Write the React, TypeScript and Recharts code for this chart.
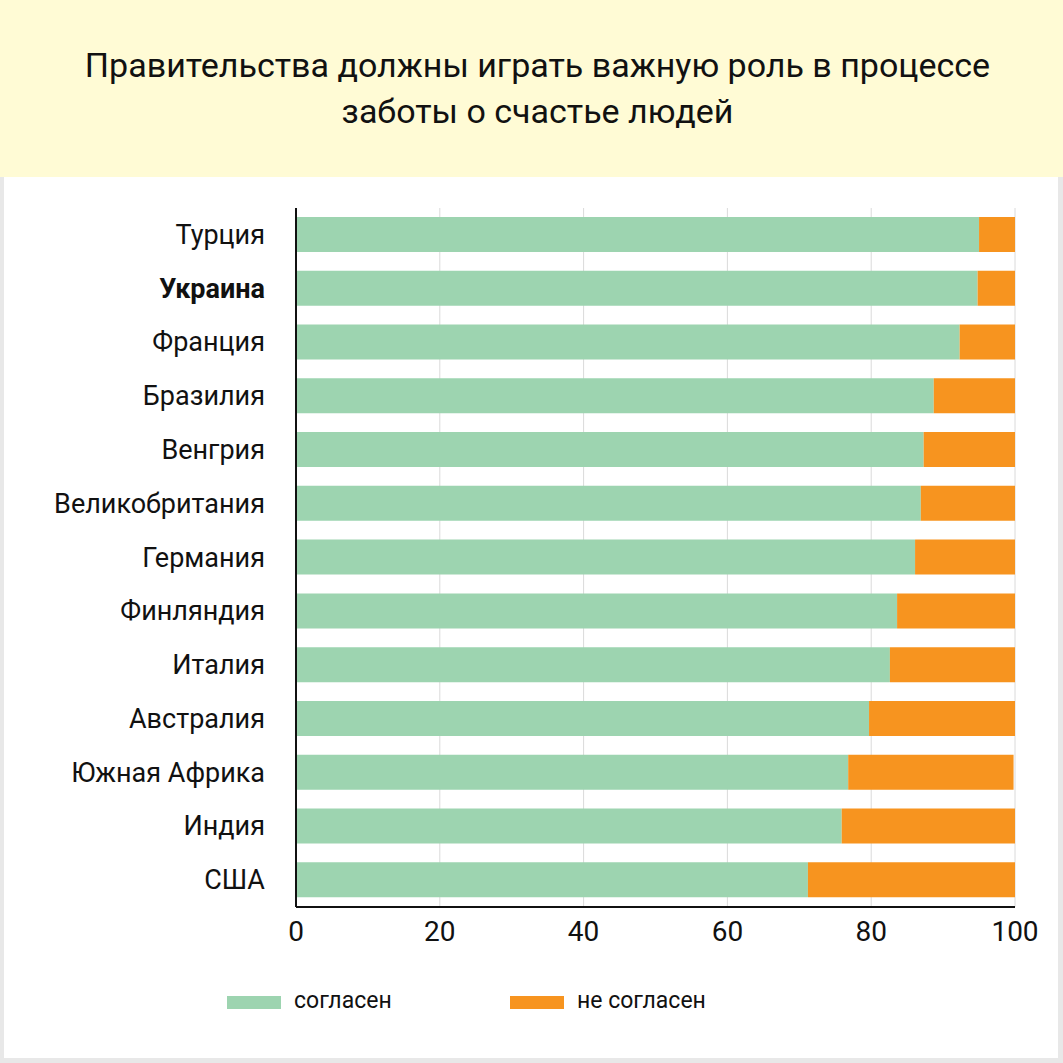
import React from 'react';
import {
  BarChart,
  Bar,
  XAxis,
  YAxis,
  CartesianGrid,
  Legend,
} from 'recharts';

const countries = [
  'Турция',
  'Украина',
  'Франция',
  'Бразилия',
  'Венгрия',
  'Великобритания',
  'Германия',
  'Финляндия',
  'Италия',
  'Австралия',
  'Южная Африка',
  'Индия',
  'США',
];
const agree = [95.0, 94.8, 92.3, 88.7, 87.3, 86.9, 86.1, 83.6, 82.6, 79.7, 76.8, 75.9, 71.2];
const disagree = [5.0, 5.2, 7.7, 11.3, 12.7, 13.1, 13.9, 16.4, 17.4, 20.3, 23.0, 24.1, 28.8];
const xTicks = [0, 20, 40, 60, 80, 100];
const highlighted = 'Украина';

const GREEN = '#9dd4b0';
const ORANGE = '#f7941f';
const FONT = 'Roboto, "Noto Sans", sans-serif';

const chartData = countries.map((country, i) => ({
  country,
  agree: agree[i],
  disagree: disagree[i],
}));

const CountryTick = (props: any) => {
  const { x, y, payload } = props;
  const bold = payload.value === highlighted;
  return (
    <text
      x={x}
      y={y}
      dy={9}
      textAnchor="end"
      fontSize={27}
      fontFamily={FONT}
      fontWeight={bold ? 700 : 400}
      fill="#111"
    >
      {payload.value}
    </text>
  );
};

const LegendBox = () => (
  <div style={{ position: 'relative', width: 1063, height: 30, fontFamily: FONT }}>
    <div style={{ position: 'absolute', left: 227, top: 8, width: 54, height: 13, background: GREEN }} />
    <div style={{ position: 'absolute', left: 294, top: -2, fontSize: 23, color: '#111', lineHeight: '30px' }}>
      согласен
    </div>
    <div style={{ position: 'absolute', left: 510, top: 8, width: 54, height: 13, background: ORANGE }} />
    <div style={{ position: 'absolute', left: 577, top: -2, fontSize: 23, color: '#111', lineHeight: '30px' }}>
      не согласен
    </div>
  </div>
);

export default function App() {
  return (
    <div
      style={{
        position: 'absolute',
        left: 0,
        top: 0,
        width: 1063,
        height: 1063,
        background: '#e8e8e8',
        fontFamily: FONT,
        overflow: 'hidden',
      }}
    >
      <div style={{ position: 'absolute', left: 4, top: 0, width: 1054, height: 1058, background: '#fff' }} />
      <div
        style={{
          position: 'absolute',
          left: 0,
          top: 0,
          width: 1063,
          height: 177,
          background: '#fffbd5',
          display: 'flex',
          alignItems: 'center',
          justifyContent: 'center',
          textAlign: 'center',
          fontSize: 34,
          lineHeight: '46px',
          color: '#111',
          paddingLeft: 12,
          paddingBottom: 2,
          boxSizing: 'border-box',
        }}
      >
        <div>
          Правительства должны играть важную роль в процессе
          <br />
          заботы о счастье людей
        </div>
      </div>
      <div style={{ position: 'absolute', left: 0, top: 0 }}>
        <BarChart
          width={1063}
          height={1063}
          data={chartData}
          layout="vertical"
          margin={{ top: 208, right: 48, bottom: 86, left: 0 }}
          barSize={35}
        >
          <CartesianGrid horizontal={false} stroke="#dadada" strokeWidth={1} />
          <XAxis
            type="number"
            domain={[0, 100]}
            ticks={xTicks}
            interval={0}
            height={40}
            tickLine={false}
            tickSize={0}
            tickMargin={14}
            axisLine={{ stroke: '#111', strokeWidth: 2 }}
            tick={{ fontSize: 28, fill: '#111', fontFamily: FONT }}
          />
          <YAxis
            type="category"
            dataKey="country"
            width={296}
            tickLine={false}
            tickSize={0}
            tickMargin={31}
            interval={0}
            axisLine={{ stroke: '#111', strokeWidth: 2 }}
            tick={<CountryTick />}
          />
          <Legend
            content={<LegendBox />}
            wrapperStyle={{ position: 'absolute', left: 0, top: 988, width: 1063 }}
          />
          <Bar dataKey="agree" name="согласен" stackId="a" fill={GREEN} isAnimationActive={false} />
          <Bar dataKey="disagree" name="не согласен" stackId="a" fill={ORANGE} isAnimationActive={false} />
        </BarChart>
      </div>
    </div>
  );
}
